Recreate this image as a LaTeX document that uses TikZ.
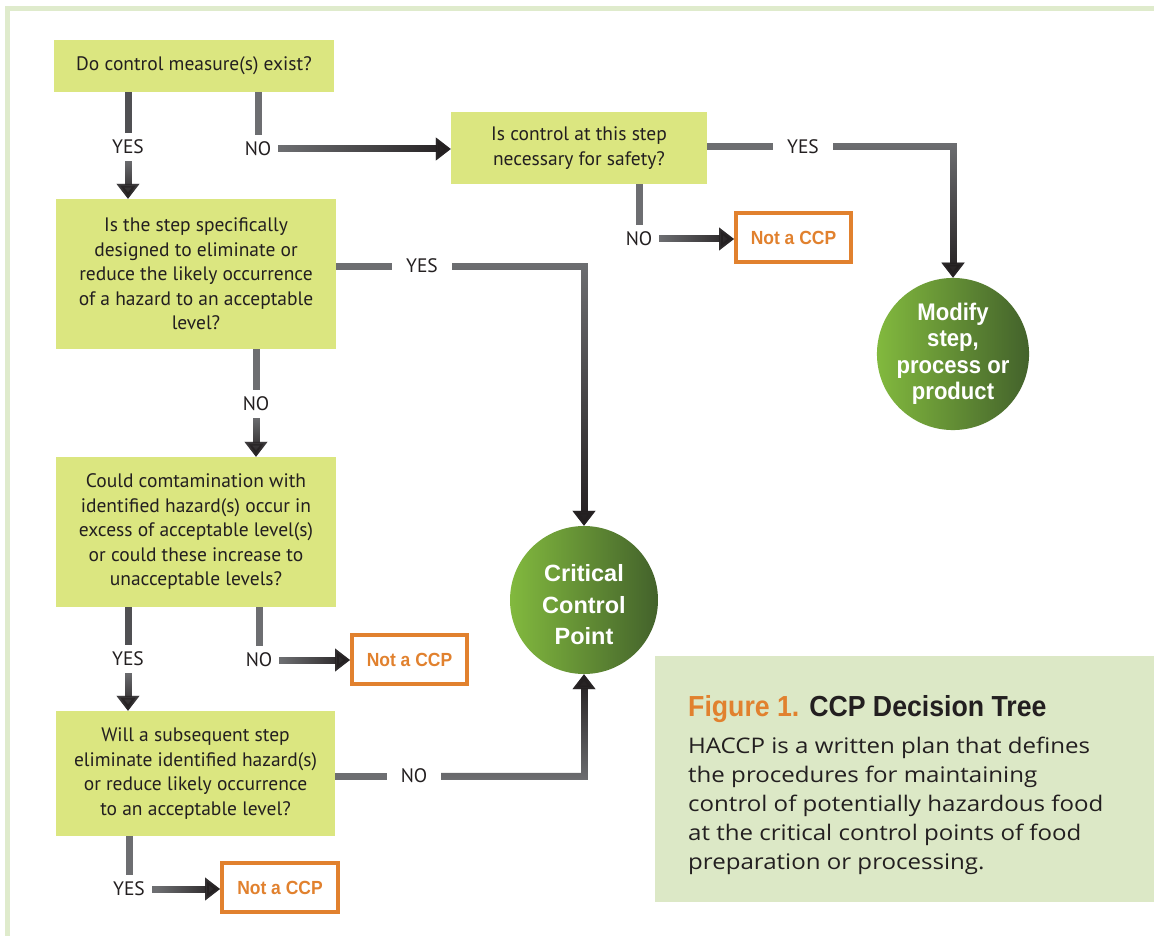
\documentclass[tikz,border=0pt]{standalone}
\usepackage{fontspec}
\setmainfont{PT Sans}
\newfontfamily\condb{Liberation Sans}[FakeStretch=0.92]
\newfontfamily\arialb{Liberation Sans}
\newfontfamily\capfont{Open Sans}[FakeStretch=1.12]
\usetikzlibrary{arrows.meta,fadings}
\definecolor{boxg}{HTML}{DBE680}
\definecolor{txt}{HTML}{231F20}
\definecolor{cgray}{HTML}{6D6E71}
\definecolor{cmid}{HTML}{505053}
\definecolor{cdark}{HTML}{231F20}
\definecolor{org}{HTML}{E1812E}
\definecolor{capbg}{HTML}{DCE8C6}
\definecolor{frm}{HTML}{DFEBCC}
\definecolor{glight}{HTML}{82B93E}
\definecolor{gdark}{HTML}{43622B}
\tikzfading[name=fdown, top color=transparent!100, bottom color=transparent!0]
\tikzfading[name=fup, top color=transparent!0, bottom color=transparent!100]
\tikzfading[name=fright, left color=transparent!100, right color=transparent!0]
\newcommand\garrow[4]{%
  \draw[arr] #4;
  \begin{scope}
    \path[scope fading=#1] #2 rectangle #3;
    \draw[arr,draw=cdark] #4;
  \end{scope}}
\begin{document}
\begin{tikzpicture}[x=1pt,y=-1pt,
  box/.style={fill=boxg, text=txt, align=center, inner sep=0pt, font=\fontsize{19.5}{24.5}\selectfont},
  ncp/.style={draw=org, line width=4pt, fill=white, text=org, font=\condb\bfseries\fontsize{19}{22}\selectfont, minimum width=115pt, minimum height=49pt, inner sep=0pt},
  lab/.style={text=txt, font=\fontsize{19.5}{22}\selectfont, minimum height=28pt, inner ysep=0pt, inner xsep=7pt},
  midlab/.style={lab, inner xsep=14pt},
  conn/.style={line width=7pt, draw=cgray},
  arr/.style={conn, -{Triangle[width=22pt,length=15pt]}},
  circ/.style={circle, inner sep=0pt, text=white, align=center, left color=glight, right color=gdark},
]
\useasboundingbox (0,0) rectangle (1154,936);
\fill[white] (0,0) rectangle (1154,936);
\draw[frm, line width=5pt] (7.5,936) -- (7.5,8.5) -- (1154,8.5);

% boxes
\node[box, minimum width=280pt, minimum height=52pt] (b1) at (194,66) {Do control measure(s) exist?};
\node[box, minimum width=280pt, minimum height=150pt] (b2) at (196,274) {Is the step specifically\\designed to eliminate or\\reduce the likely occurrence\\of a hazard to an acceptable\\level?};
\node[box, minimum width=280pt, minimum height=150pt] (b3) at (196,532) {Could comtamination with\\identified hazard(s) occur in\\excess of acceptable level(s)\\or could these increase to\\unacceptable levels?};
\node[box, minimum width=279pt, minimum height=125pt] (b4) at (195.5,773.5) {Will a subsequent step\\eliminate identified hazard(s)\\or reduce likely occurrence\\to an acceptable level?};
\node[box, minimum width=256pt, minimum height=72pt] (b5) at (579,148) {Is control at this step\\necessary for safety?};

\node[ncp] (n1) at (793.5,237.5) {Not a CCP};
\node[ncp] (n2) at (409.5,659.5) {Not a CCP};
\node[ncp, minimum width=116pt] (n3) at (280,887.5) {Not a CCP};

\node[circ, minimum size=148pt, font=\arialb\bfseries\fontsize{23.5}{31.5}\selectfont] (ccp) at (584,600) {\rule{0pt}{27pt}Critical\\Control\\Point};
\node[circ, minimum size=150pt, font=\condb\bfseries\fontsize{24}{26.5}\selectfont] (mod) at (953,354) {Modify\\step,\\process or\\product};

% labels
\node[lab] (lY1) at (128,147) {YES};
\node[lab] (lN1) at (258,149) {NO};
\node[midlab] (lY2) at (422,266) {YES};
\node[lab] (lN2) at (256,404) {NO};
\node[lab] (lY3) at (128,659) {YES};
\node[lab] (lN3) at (259,660) {NO};
\node[midlab] (lN4) at (414,776) {NO};
\node[lab] (lY4) at (129,889) {YES};
\node[midlab] (lY5) at (803,147) {YES};
\node[lab] (lN5) at (639,239) {NO};

% connectors
\draw[conn, draw=cmid] (b1.south -| lY1) -- (lY1);
\garrow{fdown}{(110,160)}{(146,199)}{(lY1) -- (lY1 |- b2.north)}
\draw[conn] (b1.south -| lN1) -- (lN1);
\garrow{fright}{(281,135)}{(451,163)}{(lN1) -- (lN1 -| b5.west)}
\draw[conn] (b2.east |- lY2) -- (lY2);
\garrow{fdown}{(455,262)}{(600,525)}{(lY2) -| (ccp)}
\draw[conn] (b2.south -| lN2) -- (lN2);
\garrow{fdown}{(240,417)}{(272,457)}{(lN2) -- (lN2 |- b3.north)}
\draw[conn, draw=cmid] (b3.south -| lY3) -- (lY3);
\garrow{fdown}{(110,672)}{(146,711)}{(lY3) -- (lY3 |- b4.north)}
\draw[conn] (b3.south -| lN3) -- (lN3);
\garrow{fright}{(281,645)}{(350,675)}{(lN3) -- (lN3 -| n2.west)}
\draw[conn] (b4.east |- lN4) -- (lN4);
\garrow{fup}{(440,677)}{(600,780)}{(lN4) -| (ccp)}
\draw[conn] (b4.south -| lY4) -- (lY4);
\garrow{fright}{(157,875)}{(220,903)}{(lY4) -- (lY4 -| n3.west)}
\draw[conn] (b5.east |- lY5) -- (lY5);
\garrow{fdown}{(837,143)}{(970,279)}{(lY5) -| (mod)}
\draw[conn] (b5.south -| lN5) -- (lN5);
\garrow{fright}{(660,225)}{(734,253)}{(lN5) -- (lN5 -| n1.west)}

% caption
\fill[capbg] (655,656) rectangle (1154,902);
\node[anchor=base west, inner sep=0pt, font=\condb\bfseries\fontsize{29}{32}\selectfont, text=txt] (ttl) at (688,716) {\textcolor{org}{Figure 1.} CCP Decision Tree};
\node[anchor=north west, inner sep=0pt, align=left, text=txt, font=\capfont\fontsize{21.5}{29}\selectfont] (body) at (688,737) {HACCP is a written plan that defines\\the procedures for maintaining\\control of potentially hazardous food\\at the critical control points of food\\preparation or processing.};
\end{tikzpicture}
\end{document}
